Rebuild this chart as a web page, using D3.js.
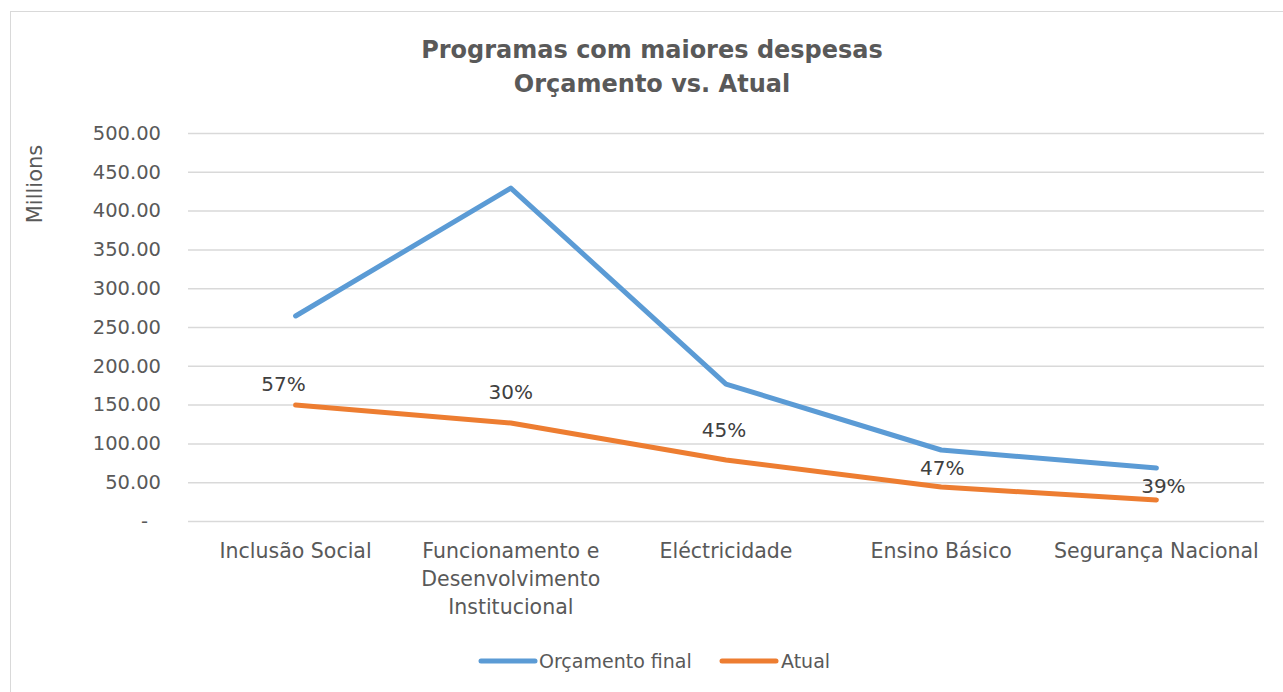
<!DOCTYPE html>
<html>
<head>
<meta charset="utf-8">
<script src="https://cdn.jsdelivr.net/npm/d3@7"></script>
<style>
  html, body { margin: 0; padding: 0; background: #fff; }
  svg { display: block; font-family: "DejaVu Sans", sans-serif; }
</style>
</head>
<body>
<svg id="chart" width="1283" height="692"></svg>
<script>
// Data
var categories = [
    ['Inclusão Social'],
    ['Funcionamento e', 'Desenvolvimento', 'Institucional'],
    ['Eléctricidade'],
    ['Ensino Básico'],
    ['Segurança Nacional']
];
var orcamentoFinal = [264.2, 429.0, 176.5, 91.5, 68.3];
var atual = [149.5, 126.3, 78.6, 43.8, 27.1];
var percentLabels = ['57%', '30%', '45%', '47%', '39%'];
var yTicks = [0, 50, 100, 150, 200, 250, 300, 350, 400, 450, 500];

// layout of the data labels (offsets from the Atual point)
var labelDx = [-12, 0, -2, 1, 7];
var labelDy = [-14, -24, -23, -12, -7];

var svg = d3.select('#chart');
var margin = { left: 188, right: 1264, top: 133, bottom: 521 };
var textColor = '#595959';

// chart frame
svg.append('rect')
    .attr('x', 10.5).attr('y', 11.5)
    .attr('width', 1290).attr('height', 700)
    .attr('fill', '#fff')
    .attr('stroke', '#d9d9d9').attr('stroke-width', 1);

var x = d3.scaleBand()
    .domain(d3.range(categories.length))
    .range([margin.left, margin.right]);

var y = d3.scaleLinear()
    .domain([0, 500])
    .range([margin.bottom, margin.top]);

// title
var title = svg.append('text')
    .attr('text-anchor', 'middle')
    .attr('fill', textColor)
    .style('font-size', '24px')
    .style('font-weight', 'bold');
title.append('tspan').attr('x', 652).attr('y', 58).text('Programas com maiores despesas');
title.append('tspan').attr('x', 652).attr('y', 92).text('Orçamento vs. Atual');

// gridlines + y axis
var yAxis = d3.axisLeft(y)
    .tickValues(yTicks)
    .tickSize(-(margin.right - margin.left))
    .tickPadding(27)
    .tickFormat(function(d){ return d === 0 ? '-' : d3.format('.2f')(d); });

var gy = svg.append('g')
    .attr('transform', 'translate(' + margin.left + ',0)')
    .call(yAxis);
gy.select('.domain').remove();
gy.selectAll('.tick line').attr('stroke', '#d9d9d9').attr('stroke-width', 1.5);
gy.selectAll('.tick text')
    .attr('fill', textColor)
    .style('font-size', '19.5px')
    .style('font-family', '"DejaVu Sans", sans-serif');
// accounting format: the dash for zero sits a little left of the decimals
gy.selectAll('.tick text')
    .filter(function(d){ return d === 0; })
    .attr('dx', -13);

// y axis title
svg.append('text')
    .attr('transform', 'translate(42,184) rotate(-90)')
    .attr('text-anchor', 'middle')
    .attr('fill', textColor)
    .style('font-size', '21px')
    .text('Millions');

// category labels
var cx = function(i){ return x(i) + x.bandwidth() / 2; };
var catLabels = svg.append('g').selectAll('text')
    .data(categories)
    .join('text')
    .attr('text-anchor', 'middle')
    .attr('fill', textColor)
    .style('font-size', '20.5px');
catLabels.each(function(lines, i){
    d3.select(this).selectAll('tspan')
        .data(lines)
        .join('tspan')
        .attr('x', cx(i))
        .attr('y', function(d, j){ return 558 + j * 28; })
        .text(function(d){ return d; });
});

// lines
var line = d3.line()
    .x(function(d, i){ return cx(i); })
    .y(function(d){ return y(d); });

var series = [
    { name: 'Orçamento final', values: orcamentoFinal, color: '#5b9bd5' },
    { name: 'Atual', values: atual, color: '#ed7d31' }
];

svg.append('g').selectAll('path')
    .data(series)
    .join('path')
    .attr('d', function(d){ return line(d.values); })
    .attr('fill', 'none')
    .attr('stroke', function(d){ return d.color; })
    .attr('stroke-width', 5)
    .attr('stroke-linecap', 'round')
    .attr('stroke-linejoin', 'round');

// data labels
svg.append('g').selectAll('text')
    .data(percentLabels)
    .join('text')
    .attr('x', function(d, i){ return cx(i) + labelDx[i]; })
    .attr('y', function(d, i){ return y(atual[i]) + labelDy[i]; })
    .attr('text-anchor', 'middle')
    .attr('fill', '#404040')
    .style('font-size', '20px')
    .text(function(d){ return d; });

// legend
var legendItems = [
    { x: 481, textX: 539 },
    { x: 722, textX: 781 }
];
var legend = svg.append('g').selectAll('g')
    .data(series)
    .join('g');
legend.append('line')
    .attr('x1', function(d, i){ return legendItems[i].x; })
    .attr('x2', function(d, i){ return legendItems[i].x + 54; })
    .attr('y1', 661).attr('y2', 661)
    .attr('stroke', function(d){ return d.color; })
    .attr('stroke-width', 5)
    .attr('stroke-linecap', 'round');
legend.append('text')
    .attr('x', function(d, i){ return legendItems[i].textX; })
    .attr('y', 668)
    .attr('fill', textColor)
    .style('font-size', '19px')
    .text(function(d){ return d.name; });
</script>
</body>
</html>
